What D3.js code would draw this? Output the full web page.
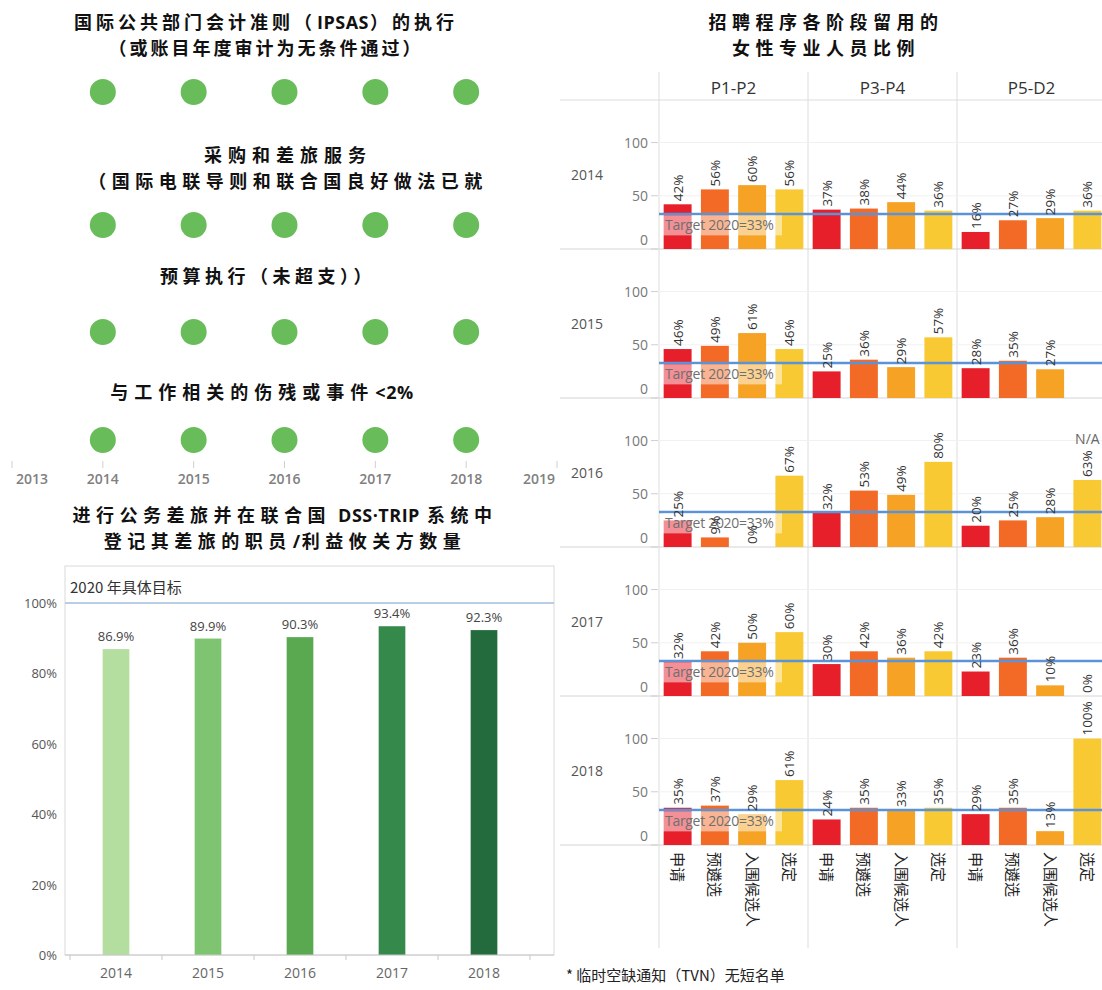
<!DOCTYPE html>
<html><head><meta charset="utf-8">
<script src="https://cdn.jsdelivr.net/npm/d3@7"></script>
<style>body{margin:0;background:#fff} svg{display:block}</style>
</head><body><svg id="c" width="1102" height="990"></svg>
<script>
// ---------- data ----------
const kpiYears = [2014, 2015, 2016, 2017, 2018];
const axisYears = [2013, 2014, 2015, 2016, 2017, 2018, 2019];
const kpi1Title = ["国际公共部门会计准则（IPSAS）的执行", "（或账目年度审计为无条件通过）"];
const kpi2Title = ["采购和差旅服务", "（国际电联导则和联合国良好做法已就"];
const kpi3Title = ["预算执行（未超支））"];
const kpi4Title = ["与工作相关的伤残或事件<2%"];
const kpi1Met = [1, 1, 1, 1, 1];
const kpi2Met = [1, 1, 1, 1, 1];
const kpi3Met = [1, 1, 1, 1, 1];
const kpi4Met = [1, 1, 1, 1, 1];

const travelTitle = ["进行公务差旅并在联合国 DSS·TRIP 系统中", "登记其差旅的职员/利益攸关方数量"];
const travelYears = ["2014", "2015", "2016", "2017", "2018"];
const travelPct = [86.9, 89.9, 90.3, 93.4, 92.3];
const travelTarget = 100;
const travelTargetLabel = "2020 年具体目标";
const travelTicks = [0, 20, 40, 60, 80, 100];

const womenTitle = ["招聘程序各阶段留用的", "女性专业人员比例"];
const panelYears = ["2014", "2015", "2016", "2017", "2018"];
const grades = ["P1-P2", "P3-P4", "P5-D2"];
const stages = ["申请", "预遴选", "入围候选人", "选定"];
const women2014 = [[42, 56, 60, 56], [37, 38, 44, 36], [16, 27, 29, 36]];
const women2015 = [[46, 49, 61, 46], [25, 36, 29, 57], [28, 35, 27, null]];
const women2016 = [[25, 9, 0, 67], [32, 53, 49, 80], [20, 25, 28, 63]];
const women2017 = [[32, 42, 50, 60], [30, 42, 36, 42], [23, 36, 10, 0]];
const women2018 = [[35, 37, 29, 61], [24, 35, 33, 35], [29, 35, 13, 100]];
const womenTarget = 33;
const womenTargetLabel = "Target 2020=33%";
const womenTicks = [0, 50, 100];
const naNotes = [{year: "2016", grade: "P5-D2", stage: "选定", text: "N/A"}];
const footnote = "* 临时空缺通知（TVN）无短名单";

// ---------- styles ----------
const titleFont = "'Noto Sans CJK SC', sans-serif";
const latinBold = "'Open Sans', sans-serif";
const bodyFont = "'Open Sans', 'Noto Sans CJK SC', sans-serif";
const cjkFont = "'Noto Sans CJK SC', sans-serif";
const dotColor = "#68bd5a";
const travelColors = ["#b3dea0", "#7fc571", "#5aa84f", "#358a4b", "#236a3d"];
const stageColors = ["#e61f2b", "#f36a27", "#f6a224", "#f8c932"];
const titleSize = 18;

const svg = d3.select("#c");

// title line: CJK runs get letter-spacing, Latin runs stay tight; each run is its own text
function titleLine(str, cx, y, spacing, size) {
  const g = svg.append("g");
  const runs = str.match(/[A-Za-z0-9·<>%\/]+|[^A-Za-z0-9·<>%\/]+/g);
  const nodes = runs.map(r => {
    const latin = /^[A-Za-z0-9·<>%\/]+$/.test(r);
    const t = g.append("text").attr("y", y)
      .style("font-family", latin ? latinBold : titleFont).style("font-weight", 700)
      .style("font-size", size + "px").style("letter-spacing", (latin ? 0.5 : spacing) + "px")
      .attr("fill", "#111").text(r.trim());
    return {t, lead: /^\s/.test(r), trail: /\s$/.test(r)};
  });
  const gap = 6;
  const widths = nodes.map(n => n.t.node().getBBox().width);
  let total = 0;
  nodes.forEach((n, i) => { total += widths[i] + (n.lead ? gap : 0) + (n.trail ? gap : 0) + (i ? 1 : 0); });
  let x = cx - total / 2;
  nodes.forEach((n, i) => {
    if (i) x += 1;
    if (n.lead) x += gap;
    n.t.attr("x", x);
    x += widths[i];
    if (n.trail) x += gap;
  });
}

// ---------- KPI dot rows ----------
const xYear = d3.scaleLinear().domain([2013, 2019]).range([12, 557]);
const kpis = [
  {t: kpi1Title, met: kpi1Met, cx: 266, ty: 28.5, dy: 92, sp: [4, 3]},
  {t: kpi2Title, met: kpi2Met, cx: 288, ty: 161.5, dy: 225, sp: [6, 5.5]},
  {t: kpi3Title, met: kpi3Met, cx: 268, ty: 283, dy: 332, sp: [4.5]},
  {t: kpi4Title, met: kpi4Met, cx: 262, ty: 399, dy: 440, sp: [6]}
];
kpis.forEach(k => {
  k.t.forEach((l, i) => titleLine(l, k.cx, k.ty + i * 26, k.sp[i], titleSize));
  svg.append("g").selectAll("circle").data(kpiYears.filter((d, i) => k.met[i]))
    .join("circle").attr("cx", d => xYear(d)).attr("cy", k.dy).attr("r", 13)
    .attr("fill", dotColor);
});
const yearAxis = svg.append("g");
yearAxis.selectAll("line").data(axisYears).join("line")
  .attr("x1", d => xYear(d)).attr("x2", d => xYear(d))
  .attr("y1", 461).attr("y2", 468).attr("stroke", "#d0d0d0");
yearAxis.selectAll("text").data(axisYears).join("text")
  .attr("x", (d, i) => i === 0 ? xYear(d) + 4 : (i === axisYears.length - 1 ? xYear(d) - 2 : xYear(d)))
  .attr("text-anchor", (d, i) => i === 0 ? "start" : (i === axisYears.length - 1 ? "end" : "middle"))
  .attr("y", 484).attr("fill", "#808080")
  .style("font-family", bodyFont).style("font-size", "14px").style("font-weight", 600)
  .text(d => d);

// ---------- travel bar chart ----------
titleLine(travelTitle[0], 285, 522, 5.5, titleSize);
titleLine(travelTitle[1], 285, 548, 5.5, titleSize);

const xB = d3.scaleBand().domain(travelYears).range([70, 530]).paddingInner(0.71).paddingOuter(0.355);
const yB = d3.scaleLinear().domain([0, 100]).range([955, 603]);
svg.append("rect").attr("x", 65).attr("y", 566).attr("width", 489).attr("height", 389)
  .attr("fill", "none").attr("stroke", "#dadada");
svg.append("line").attr("x1", 65).attr("x2", 554).attr("y1", yB(travelTarget)).attr("y2", yB(travelTarget))
  .attr("stroke", "#b9cde4").attr("stroke-width", 2);
svg.append("text").attr("x", 70).attr("y", 593).attr("fill", "#333")
  .style("font-family", cjkFont).style("font-size", "15px").text(travelTargetLabel);
svg.append("g").selectAll("text").data(travelTicks).join("text")
  .attr("x", 57).attr("y", d => yB(d) + 5).attr("text-anchor", "end")
  .attr("fill", "#555").style("font-family", bodyFont).style("font-size", "13px")
  .text(d => d + "%");
svg.append("g").selectAll("rect").data(travelYears).join("rect")
  .attr("x", d => xB(d)).attr("width", xB.bandwidth())
  .attr("y", (d, i) => yB(travelPct[i])).attr("height", (d, i) => yB(0) - yB(travelPct[i]))
  .attr("fill", (d, i) => travelColors[i]);
svg.append("g").selectAll("text").data(travelYears).join("text")
  .attr("x", d => xB(d) + xB.bandwidth() / 2).attr("y", (d, i) => yB(travelPct[i]) - 8)
  .attr("text-anchor", "middle").attr("fill", "#444")
  .style("font-family", bodyFont).style("font-size", "13px")
  .text((d, i) => travelPct[i].toFixed(1) + "%");
svg.append("line").attr("x1", 65).attr("x2", 554).attr("y1", 955).attr("y2", 955).attr("stroke", "#c8c8c8");
const edges = travelYears.map(d => xB(d) - xB.step() * xB.paddingInner() / 2).concat([530]);
svg.append("g").selectAll("line").data(edges).join("line")
  .attr("x1", d => d).attr("x2", d => d).attr("y1", 955).attr("y2", 960).attr("stroke", "#c8c8c8");
svg.append("g").selectAll("text").data(travelYears).join("text")
  .attr("x", d => xB(d) + xB.bandwidth() / 2).attr("y", 978).attr("text-anchor", "middle")
  .attr("fill", "#666").style("font-family", bodyFont).style("font-size", "14px").text(d => d);

// ---------- women panel ----------
womenTitle.forEach((l, i) => titleLine(l, 826, 28.5 + i * 26, 5.5, titleSize));
const womenData = [women2014, women2015, women2016, women2017, women2018];
const xG = d3.scaleBand().domain(grades).range([659, 1106]);
const xS = d3.scaleBand().domain(stages).range([0, xG.bandwidth()]).paddingInner(0.25).paddingOuter(0.125);
const rowH = 149, rowTop0 = 100;
const rowY = d3.scaleBand().domain(panelYears).range([rowTop0, rowTop0 + rowH * panelYears.length]);

svg.append("g").selectAll("text").data(grades).join("text")
  .attr("x", d => xG(d) + xG.bandwidth() / 2).attr("y", 94).attr("text-anchor", "middle")
  .attr("fill", "#333").style("font-family", bodyFont).style("font-size", "17px").text(d => d);
svg.append("line").attr("x1", 560).attr("x2", 1102).attr("y1", rowTop0).attr("y2", rowTop0).attr("stroke", "#dcdcdc");
svg.append("g").selectAll("line").data(grades).join("line")
  .attr("x1", d => xG(d)).attr("x2", d => xG(d)).attr("y1", 72).attr("y2", 948).attr("stroke", "#dcdcdc");

panelYears.forEach((yr, r) => {
  const top = rowY(yr), bot = top + rowH;
  const y = d3.scaleLinear().domain([0, 140]).range([bot, top]);
  const g = svg.append("g");
  g.selectAll("line.grid").data(womenTicks.filter(t => t > 0)).join("line").attr("class", "grid")
    .attr("x1", 659).attr("x2", 1102).attr("y1", d => y(d)).attr("y2", d => y(d)).attr("stroke", "#f1f1f1");
  g.append("line").attr("x1", 560).attr("x2", 1102).attr("y1", bot).attr("y2", bot).attr("stroke", "#d4d4d4");
  g.selectAll("line.tk").data(womenTicks).join("line").attr("class", "tk")
    .attr("x1", 651).attr("x2", 658).attr("y1", d => y(d)).attr("y2", d => y(d)).attr("stroke", "#cfcfcf");
  g.selectAll("text.tk").data(womenTicks).join("text").attr("class", "tk")
    .attr("x", 648).attr("y", d => y(d) + (d === 0 ? -4 : 5)).attr("text-anchor", "end")
    .attr("fill", "#777").style("font-family", bodyFont).style("font-size", "14px").text(d => d);
  g.append("text").attr("x", 587).attr("y", (top + bot) / 2 + 5).attr("text-anchor", "middle")
    .attr("fill", "#555").style("font-family", bodyFont).style("font-size", "14px").text(yr);
  grades.forEach((gr, gi) => {
    const vals = womenData[r][gi];
    stages.forEach((st, si) => {
      const v = vals[si];
      if (v === null) return;
      g.append("rect").attr("x", xG(gr) + xS(st)).attr("width", xS.bandwidth())
        .attr("y", y(v)).attr("height", y(0) - y(v)).attr("fill", stageColors[si]);
    });
  });
  g.append("line").attr("x1", 659).attr("x2", 1102).attr("y1", y(womenTarget)).attr("y2", y(womenTarget))
    .attr("stroke", "#5b93d8").attr("stroke-width", 2.5);
  g.append("rect").attr("x", 663).attr("y", y(womenTarget) + 1.5).attr("width", 119).attr("height", 20)
    .attr("fill", "#fff").attr("fill-opacity", 0.5);
  g.append("text").attr("x", 665).attr("y", y(womenTarget) + 16.5).attr("fill", "#6f6f6f")
    .style("font-family", bodyFont).style("font-size", "14px").style("letter-spacing", "-0.3px").text(womenTargetLabel);
  grades.forEach((gr, gi) => {
    const vals = womenData[r][gi];
    stages.forEach((st, si) => {
      const v = vals[si];
      if (v === null) return;
      const cx = xG(gr) + xS(st) + xS.bandwidth() / 2;
      const ty = y(v) - 3;
      g.append("text").attr("transform", `translate(${cx},${ty}) rotate(-90)`)
        .attr("dy", "0.36em").attr("fill", "#333")
        .style("font-family", bodyFont).style("font-size", "13.5px").text(v + "%");
      const na = naNotes.find(n => n.year === yr && n.grade === gr && n.stage === st);
      if (na) {
        g.append("text").attr("x", cx).attr("y", ty - 33).attr("text-anchor", "middle")
          .attr("fill", "#666").style("font-family", bodyFont).style("font-size", "14px").text(na.text);
      }
    });
  });
});

const catG = svg.append("g");
grades.forEach(gr => {
  stages.forEach(st => {
    const cx = xG(gr) + xS(st) + xS.bandwidth() / 2;
    catG.append("text").attr("transform", `translate(${cx},852) rotate(90)`)
      .attr("dy", "0.36em").attr("fill", "#222")
      .style("font-family", cjkFont).style("font-size", "15px").text(st);
  });
});
svg.append("text").attr("x", 566).attr("y", 981).attr("fill", "#222")
  .style("font-family", cjkFont).style("font-size", "15px").text(footnote);
</script></body></html>
